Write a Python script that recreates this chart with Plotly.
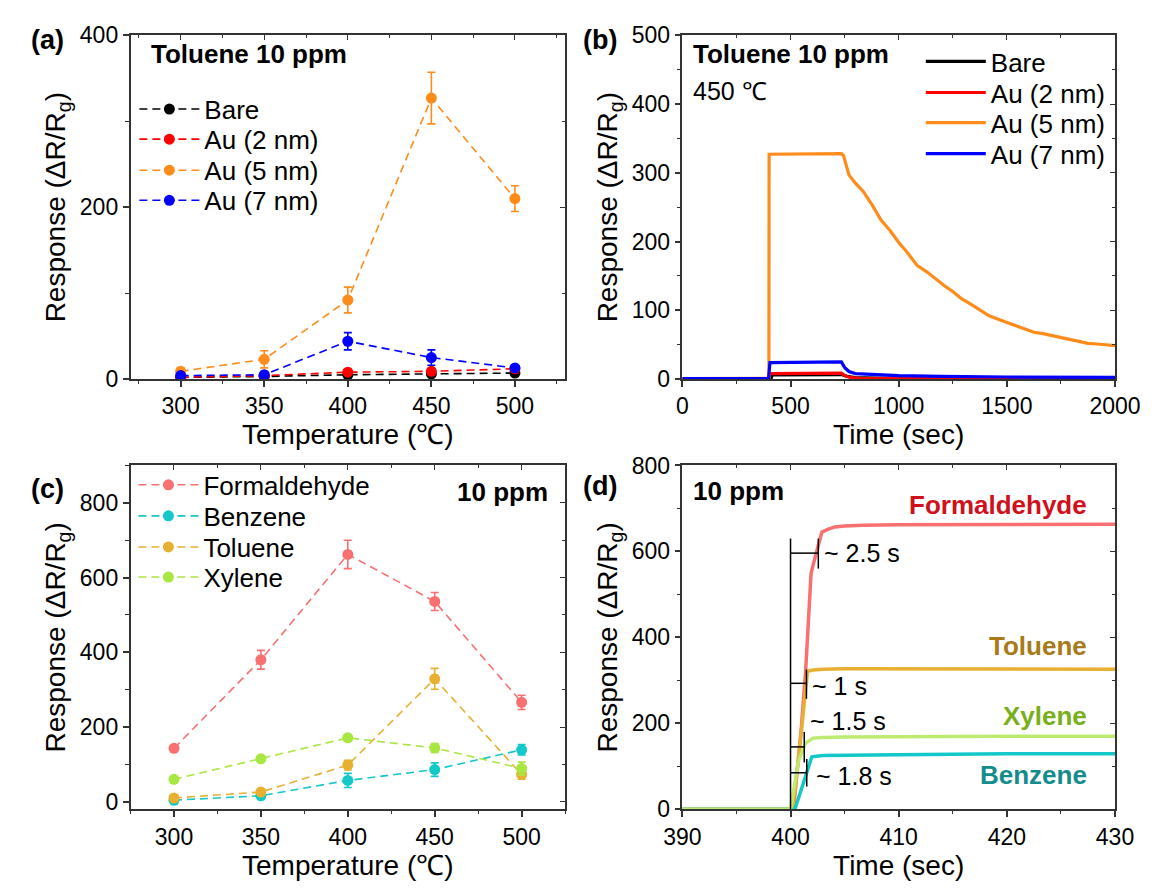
import plotly.graph_objects as go

# ---------------- data ----------------
# (a) Toluene 10 ppm vs temperature
temp = [300, 350, 400, 450, 500]
bare = [2, 3, 5, 6, 7]
bare_err = [0.5, 0.5, 0.8, 0.8, 0.8]
au2 = [2, 4, 8, 9, 12]
au2_err = [0.5, 0.8, 1.5, 1.5, 2]
au5 = [9, 23, 92, 327, 210]
au5_err = [4, 10, 15, 30, 15]
au7 = [4, 5, 44, 25, 13]
au7_err = [1, 1.5, 10, 9, 3]

# (b) transient response at 450 C
t_bare = [0, 410, 415, 600, 735, 760, 800, 900, 1200, 2000]
r_bare = [0.2, 0.2, 6, 6.5, 6.5, 4, 2, 1.5, 1.2, 1]
t_au2 = [0, 398, 405, 600, 735, 750, 780, 820, 900, 2000]
r_au2 = [0.3, 0.3, 8, 8.5, 8.5, 5, 2, 1, 0.5, 0.3]
t_au5 = [0, 395, 400, 401, 600, 736, 745, 753, 770, 800, 836, 880, 919, 960, 1002,
         1040, 1086, 1130, 1169, 1210, 1252, 1290, 1335, 1380, 1418, 1460, 1501,
         1540, 1584, 1625, 1667, 1710, 1751, 1790, 1834, 1875, 1917, 1960, 2000]
r_au5 = [0.5, 0.5, 1, 327, 328, 328, 325, 316, 297, 285, 273, 252, 231, 216, 198,
         184, 165, 156, 146, 136, 127, 117, 108.5, 99, 92, 87, 82.5,
         78, 73, 68, 66, 63, 60, 57, 54, 52, 51, 50, 48.6]
t_au7 = [0, 398, 405, 600, 735, 750, 770, 800, 900, 1000, 1200, 1500, 2000]
r_au7 = [0.5, 0.5, 24, 25, 25, 17, 11, 8, 6, 5, 4, 3, 2.5]

# (c) gases vs temperature (10 ppm)
form = [143, 380, 662, 536, 266]
form_err = [6, 25, 38, 24, 19]
benz = [4, 16, 57, 86, 139]
benz_err = [3, 5, 19, 18, 14]
tolu = [10, 26, 98, 329, 73]
tolu_err = [3, 5, 13, 28, 13]
xyl = [60, 115, 171, 144, 89]
xyl_err = [4, 6, 8, 12, 17]

# (d) response transients (10 ppm)
t_form = [390, 395, 400, 400.3, 401.0, 401.4, 401.9, 402.2, 402.6, 402.9, 403.5,
          404.1, 405, 406.7, 410, 420, 430]
r_form = [0, 0, 0, 5, 190, 323, 549, 579, 620, 645, 652, 657, 659, 661, 662, 663, 663]
t_tolu = [390, 400, 400.2, 401.0, 401.57, 402.07, 403, 405, 410, 420, 430]
r_tolu = [0, 0, 0, 180, 321, 324, 326, 327, 327, 327, 326]
t_benz = [390, 400, 400.4, 400.74, 401.4, 401.97, 403, 405, 410, 420, 430]
r_benz = [0, 0, 0, 26, 75, 122, 125, 126, 127, 129, 129]
t_xyl = [390, 400, 400.74, 401.4, 402.07, 403, 405, 410, 420, 430]
r_xyl = [0, 0, 113, 154, 165.5, 167, 168, 169, 170, 170]

# response-time brackets in (d)
rt_end = [402.57, 401.47, 401.27, 401.5]
rt_level = [596, 293, 145, 85]
rt_lo = [560, 257, 109, 53]
rt_hi = [630, 325, 180, 117]
rt_text = ["~ 2.5 s", "~ 1 s", "~ 1.5 s", "~ 1.8 s"]
rt_tx = [402.9, 401.8, 401.6, 402.2]
rt_ty = [596, 287, 205, 77]

# ---------------- style ----------------
FONT = "Arial, Liberation Sans, sans-serif"
W, H = 1166, 896
AX = "#333333"
DASH = "8px,5px"
C_BARE, C_AU2, C_AU5, C_AU7 = "#000000", "#ff0000", "#ff8c1a", "#0000ff"
C_FORM, C_BENZ, C_TOLU, C_XYL = "#f87070", "#12c8c8", "#e8b030", "#a8e640"
C_XYL_D = "#bdeb70"


def px_x(p):
    return p / W


def px_y(p):
    return 1 - p / H


fig = go.Figure()
legends = {}
leg_count = [0]


def new_legend(x_px, y_px):
    leg_count[0] += 1
    key = "legend" if leg_count[0] == 1 else "legend%d" % leg_count[0]
    legends[key] = dict(x=px_x(x_px), y=px_y(y_px), xanchor="left", yanchor="middle",
                        bgcolor="rgba(0,0,0,0)", font=dict(size=26, family=FONT, color="black"),
                        itemwidth=60)
    return key


def dash_trace(x, y, err, name, color, xa, ya, lx, ly):
    fig.add_trace(go.Scatter(
        x=x, y=y, name=name, mode="lines+markers",
        line=dict(color=color, width=1.6, dash=DASH),
        marker=dict(color=color, size=11),
        error_y=dict(type="data", array=err, color=color, thickness=1.6, width=4),
        xaxis=xa, yaxis=ya, legend=new_legend(lx, ly)))


rows_a = [99, 130, 162, 193]
for (yy, ee, nm, c), ly in zip([(bare, bare_err, "Bare", C_BARE), (au2, au2_err, "Au (2 nm)", C_AU2),
                                (au5, au5_err, "Au (5 nm)", C_AU5), (au7, au7_err, "Au (7 nm)", C_AU7)],
                               rows_a):
    dash_trace(temp, yy, ee, nm, c, "x", "y", 120, ly)

rows_b = [50, 82, 113, 145]
for (tx, ry, nm, c), ly in zip([(t_bare, r_bare, "Bare", C_BARE), (t_au2, r_au2, "Au (2 nm)", C_AU2),
                                (t_au5, r_au5, "Au (5 nm)", C_AU5), (t_au7, r_au7, "Au (7 nm)", C_AU7)],
                               rows_b):
    fig.add_trace(go.Scatter(x=tx, y=ry, name=nm, mode="lines",
                             line=dict(color=c, width=3.2), xaxis="x2", yaxis="y2",
                             legend=new_legend(938, ly)))

rows_c = [486, 518, 550, 581]
for (yy, ee, nm, c), ly in zip([(form, form_err, "Formaldehyde", C_FORM), (benz, benz_err, "Benzene", C_BENZ),
                                (tolu, tolu_err, "Toluene", C_TOLU), (xyl, xyl_err, "Xylene", C_XYL)],
                               rows_c):
    dash_trace(temp, yy, ee, nm, c, "x3", "y3", 119, ly)

for tx, ry, nm, c in [(t_form, r_form, "Formaldehyde", C_FORM), (t_tolu, r_tolu, "Toluene", C_TOLU),
                      (t_benz, r_benz, "Benzene", C_BENZ), (t_xyl, r_xyl, "Xylene", C_XYL_D)]:
    fig.add_trace(go.Scatter(x=tx, y=ry, name=nm, mode="lines",
                             line=dict(color=c, width=3.5), xaxis="x4", yaxis="y4",
                             showlegend=False))

# empty helper traces so the mirrored tick axes (top / right) get drawn
for xa, ya in [("x5", "y"), ("x", "y5"), ("x6", "y2"), ("x2", "y6"),
               ("x7", "y3"), ("x3", "y7"), ("x8", "y4"), ("x4", "y8")]:
    fig.add_trace(go.Scatter(x=[], y=[], xaxis=xa, yaxis=ya, showlegend=False,
                             hoverinfo="skip", mode="lines"))

# response time brackets
fig.add_shape(type="line", xref="x4", yref="y4", x0=400, x1=400, y0=0, y1=630,
              line=dict(color="black", width=1.5))
for e, lv, lo, hi in zip(rt_end, rt_level, rt_lo, rt_hi):
    fig.add_shape(type="line", xref="x4", yref="y4", x0=400, x1=e, y0=lv, y1=lv,
                  line=dict(color="black", width=1.5))
    fig.add_shape(type="line", xref="x4", yref="y4", x0=e, x1=e, y0=lo, y1=hi,
                  line=dict(color="black", width=1.5))
for txt, x, y in zip(rt_text, rt_tx, rt_ty):
    fig.add_annotation(x=x, y=y, xref="x4", yref="y4", text=txt, showarrow=False,
                       xanchor="left", yanchor="middle", font=dict(size=25, color="black"))

gas_lbl = [("Formaldehyde", 707, "#d0101a"), ("Toluene", 380, "#a87a18"),
           ("Xylene", 217, "#78b01c"), ("Benzene", 79, "#148c8c")]
for txt, y, c in gas_lbl:
    fig.add_annotation(x=427.6, y=y, xref="x4", yref="y4", text="<b>%s</b>" % txt,
                       showarrow=False, xanchor="right", yanchor="middle",
                       font=dict(size=26, color=c))

# ---------------- layout ----------------
xa_dom = [px_x(116), px_x(568)]
xb_dom = [px_x(690), px_x(1140)]
ytop_dom = [px_y(377), px_y(23)]
ybot_dom = [px_y(820), px_y(466)]


def axis(dom, anchor, rng, dtick, minor, title, tick0=None):
    d = dict(domain=dom, anchor=anchor, range=rng, dtick=dtick,
             showgrid=False, zeroline=False, showline=True, linecolor=AX, linewidth=1.5,
             mirror=True, ticks="outside", ticklen=6, tickwidth=1.5, tickcolor=AX,
             tickfont=dict(size=23, color="black", family=FONT),
             minor=dict(dtick=minor, ticks="outside", ticklen=3.5, tickwidth=1.2,
                        tickcolor=AX, showgrid=False),
             title=dict(text=title, font=dict(size=28, color="black", family=FONT), standoff=6))
    if tick0 is not None:
        d["tick0"] = tick0
    return d


def mirror_axis(over, anchor, side, rng, dtick, minor, tick0=None):
    d = dict(overlaying=over, anchor=anchor, side=side, range=rng, dtick=dtick,
             showgrid=False, zeroline=False, showline=False, showticklabels=False,
             ticks="inside", ticklen=5, tickwidth=1.3, tickcolor=AX,
             minor=dict(dtick=minor, ticks="inside", ticklen=3, tickwidth=1.1,
                        tickcolor=AX, showgrid=False))
    if tick0 is not None:
        d["tick0"] = tick0
    return d


YT = "Response (ΔR/R<sub>g</sub>)"
layout = dict(
    width=W, height=H, margin=dict(l=0, r=0, t=0, b=0),
    paper_bgcolor="white", plot_bgcolor="white",
    font=dict(family=FONT, color="black"),
    xaxis=axis(xa_dom, "y", [270, 530], 50, 25, "Temperature (℃)", tick0=300),
    yaxis=axis(ytop_dom, "x", [0, 400], 200, 100, YT),
    xaxis2=axis(xb_dom, "y2", [0, 2000], 500, 250, "Time (sec)"),
    yaxis2=axis(ytop_dom, "x2", [0, 500], 100, 50, YT),
    xaxis3=axis(xa_dom, "y3", [275, 525], 50, 25, "Temperature (℃)", tick0=300),
    yaxis3=axis(ybot_dom, "x3", [-20, 900], 200, 100, YT, tick0=0),
    xaxis4=axis(xb_dom, "y4", [390, 430], 10, 5, "Time (sec)"),
    yaxis4=axis(ybot_dom, "x4", [0, 800], 200, 100, YT),
    # mirrored inner ticks on top / right edges
    xaxis5=mirror_axis("x", "y", "top", [270, 530], 50, 25, tick0=300),
    yaxis5=mirror_axis("y", "x", "right", [0, 400], 200, 100),
    xaxis6=mirror_axis("x2", "y2", "top", [0, 2000], 500, 250),
    yaxis6=mirror_axis("y2", "x2", "right", [0, 500], 100, 50),
    xaxis7=mirror_axis("x3", "y3", "top", [275, 525], 50, 25, tick0=300),
    yaxis7=mirror_axis("y3", "x3", "right", [-20, 900], 200, 100, tick0=0),
    xaxis8=mirror_axis("x4", "y4", "top", [390, 430], 10, 5),
    yaxis8=mirror_axis("y4", "x4", "right", [0, 800], 200, 100),
    showlegend=True,
)
layout.update(legends)
fig.update_layout(**layout)

# panel labels and in-plot texts
texts = [
    ("<b>(a)</b>", px_x(10), px_y(28), "left", 27),
    ("<b>(b)</b>", px_x(585), px_y(28), "left", 27),
    ("<b>(c)</b>", px_x(10), px_y(490), "left", 27),
    ("<b>(d)</b>", px_x(585), px_y(487), "left", 27),
    ("<b>Toluene 10 ppm</b>", px_x(135), px_y(42), "left", 26),
    ("<b>Toluene 10 ppm</b>", px_x(699), px_y(42), "left", 26),
    ("450 ℃", px_x(699), px_y(80), "left", 25),
    ("<b>10 ppm</b>", px_x(552), px_y(493), "right", 26),
    ("<b>10 ppm</b>", px_x(699), px_y(492), "left", 26),
]
for txt, x, y, xa, fs in texts:
    fig.add_annotation(x=x, y=y, xref="paper", yref="paper", text=txt, showarrow=False,
                       xanchor=xa, yanchor="middle", font=dict(size=fs, color="black", family=FONT))

fig.write_html("out.html")
